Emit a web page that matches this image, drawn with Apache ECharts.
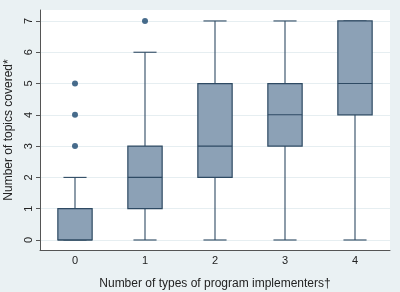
<!DOCTYPE html>
<html>
<head>
<meta charset="utf-8">
<script src="https://cdn.jsdelivr.net/npm/echarts@6/dist/echarts.min.js"></script>
<style>
  html, body { margin: 0; padding: 0; background: #eaf1f3; }
  #chart { width: 400px; height: 292px; }
</style>
</head>
<body>
<div id="chart"></div>
<script>
// categories: number of types of program implementers
const categories = ['0', '1', '2', '3', '4'];
// box stats per category: [min whisker, Q1, median, Q3, max whisker]
const boxStats = [
  [0, 0, 0, 1, 2],
  [0, 1, 2, 3, 6],
  [0, 2, 3, 5, 7],
  [0, 3, 4, 5, 7],
  [0, 4, 5, 7, 7]
];
// outside values [category index, topics]
const outliers = [[0, 3], [0, 4], [0, 5], [1, 7]];
const yTicks = [0, 1, 2, 3, 4, 5, 6, 7];

const chart = echarts.init(document.getElementById('chart'));

const lineColor = '#2e4a63';
const boxFill = '#8ca1b6';

function renderBox(params, api) {
  const idx = api.value(0);
  const lo = api.coord([idx, api.value(1)]);
  const q1 = api.coord([idx, api.value(2)]);
  const med = api.coord([idx, api.value(3)]);
  const q3 = api.coord([idx, api.value(4)]);
  const hi = api.coord([idx, api.value(5)]);
  const bandW = api.size([1, 0])[0];
  const halfBox = bandW * 0.245;
  const halfCap = bandW * 0.165;
  const x = lo[0];
  const stroke = { stroke: lineColor, lineWidth: 1.1 };
  return {
    type: 'group',
    children: [
      { type: 'line', shape: { x1: x, y1: q3[1], x2: x, y2: hi[1] }, style: stroke },
      { type: 'line', shape: { x1: x, y1: q1[1], x2: x, y2: lo[1] }, style: stroke },
      { type: 'line', shape: { x1: x - halfCap, y1: hi[1], x2: x + halfCap, y2: hi[1] }, style: stroke },
      { type: 'line', shape: { x1: x - halfCap, y1: lo[1], x2: x + halfCap, y2: lo[1] }, style: stroke },
      {
        type: 'rect',
        shape: { x: x - halfBox, y: q3[1], width: halfBox * 2, height: q1[1] - q3[1] },
        style: { fill: boxFill, stroke: lineColor, lineWidth: 1.2 }
      },
      { type: 'line', shape: { x1: x - halfBox, y1: med[1], x2: x + halfBox, y2: med[1] }, style: stroke }
    ]
  };
}

const option = {
  backgroundColor: '#eaf1f3',
  animation: false,
  grid: {
    left: 40,
    right: 10,
    top: 10,
    bottom: 42,
    outerBoundsMode: 'none',
    containLabel: false,
    show: true,
    backgroundColor: '#ffffff',
    borderWidth: 0
  },
  xAxis: {
    type: 'category',
    data: categories,
    boundaryGap: true,
    name: 'Number of types of program implementers\u2020',
    nameLocation: 'middle',
    nameGap: 28,
    nameTextStyle: { color: '#222', fontSize: 12, fontFamily: 'Liberation Sans' },
    axisLine: { show: true, onZero: false, lineStyle: { color: '#555', width: 1 } },
    axisTick: { show: false },
    axisLabel: { color: '#222', fontSize: 11, fontFamily: 'Liberation Sans', margin: 5 },
    splitLine: { show: false }
  },
  yAxis: {
    type: 'value',
    min: -0.32,
    max: 7.35,
    name: 'Number of topics covered*',
    nameLocation: 'middle',
    nameGap: 21,
    nameTextStyle: { color: '#222', fontSize: 12, fontFamily: 'Liberation Sans' },
    axisLine: { show: true, onZero: false, lineStyle: { color: '#555', width: 1 } },
    axisTick: { show: true, length: 4, customValues: yTicks, lineStyle: { color: '#555' } },
    axisLabel: {
      customValues: yTicks,
      rotate: 90,
      color: '#222',
      fontSize: 11,
      fontFamily: 'Liberation Sans',
      margin: 6
    },
    splitLine: { show: true, lineStyle: { color: '#e6eef1', width: 1 } }
  },
  series: [
    {
      type: 'custom',
      renderItem: renderBox,
      encode: { x: 0, y: [1, 2, 3, 4, 5] },
      data: boxStats.map((s, i) => [i].concat(s)),
      z: 2
    },
    {
      type: 'scatter',
      data: outliers,
      symbol: 'circle',
      symbolSize: 6,
      itemStyle: { color: '#1a476f' },
      z: 3
    }
  ]
};

chart.setOption(option);
</script>
</body>
</html>
